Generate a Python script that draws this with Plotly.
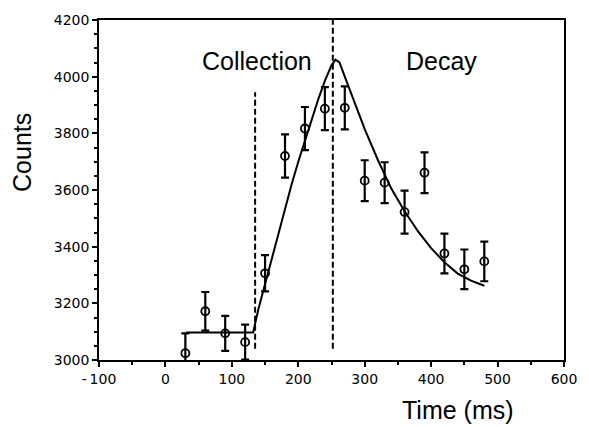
import plotly.graph_objects as go

# measured points
t = [30, 60, 90, 120, 150, 180, 210, 240, 270, 300, 330, 360, 390, 420, 450, 480]
counts = [3024, 3172, 3094, 3063, 3306, 3720, 3817, 3887, 3890, 3633, 3626, 3522, 3661, 3376, 3320, 3348]
err = [70, 68, 62, 62, 64, 76, 76, 76, 76, 72, 72, 76, 72, 70, 70, 70]

# fitted curve
fit_t = [31, 132, 140, 150, 160, 170, 180, 190, 200, 210, 220, 230, 240, 250, 256, 262,
         270, 280, 290, 300, 320, 340, 360, 380, 400, 420, 440, 460, 480]
fit_y = [3097, 3097, 3180, 3270, 3360, 3450, 3535, 3620, 3700, 3775, 3850, 3920, 3985, 4040, 4060, 4050,
         4000, 3940, 3875, 3815, 3705, 3605, 3525, 3455, 3395, 3345, 3305, 3280, 3262]

# dashed separators (x, y-range)
sep1_x = [135, 135]
sep1_y = [3040, 3945]
sep2_x = [252, 252]
sep2_y = [3040, 4200]

FONT = "Liberation Sans, Arial, sans-serif"
TICKFONT = "DejaVu Sans, sans-serif"

fig = go.Figure()
fig.add_trace(go.Scatter(x=sep1_x, y=sep1_y, mode="lines",
                         line=dict(color="black", width=2, dash="6px,3px")))
fig.add_trace(go.Scatter(x=sep2_x, y=sep2_y, mode="lines",
                         line=dict(color="black", width=2, dash="6px,3px")))
fig.add_trace(go.Scatter(x=fit_t, y=fit_y, mode="lines",
                         line=dict(color="black", width=2)))
fig.add_trace(go.Scatter(
    x=t, y=counts, mode="markers",
    marker=dict(symbol="circle-open", size=8, color="black", line=dict(width=1.8)),
    error_y=dict(type="data", array=err, color="black", thickness=2.2, width=4),
))

fig.add_annotation(x=138, y=4055, text="Collection", showarrow=False,
                   font=dict(family=FONT, size=25, color="black"))
fig.add_annotation(x=415, y=4055, text="Decay", showarrow=False,
                   font=dict(family=FONT, size=25, color="black"))
fig.add_annotation(x=440, y=-0.148, xref="x", yref="paper", text="Time (ms)",
                   yanchor="middle", showarrow=False,
                   font=dict(family=FONT, size=25, color="black"))
fig.add_annotation(x=-0.167, y=0.61, xref="paper", yref="paper", text="Counts",
                   textangle=-90, xanchor="center", yanchor="middle", showarrow=False,
                   font=dict(family=FONT, size=25, color="black"))

axis_common = dict(showline=True, linecolor="black", linewidth=1.5, mirror=True,
                   showgrid=False, zeroline=False, ticks="outside", ticklen=5,
                   tickwidth=1.5, tickcolor="black",
                   tickfont=dict(family=TICKFONT, size=14, color="black"))

fig.update_xaxes(range=[-100, 600], tickvals=[-100, 0, 100, 200, 300, 400, 500, 600],
                 ticktext=["-\u2009100", "0", "100", "200", "300", "400", "500", "600"],
                 minor=dict(dtick=50, ticks="outside", ticklen=3, tickcolor="black"),
                 **axis_common)
fig.update_yaxes(range=[3000, 4200], dtick=200,
                 minor=dict(dtick=50, ticks="outside", ticklen=3, tickcolor="black"),
                 **axis_common)

fig.update_layout(width=589, height=427, showlegend=False,
                  margin=dict(l=99, r=19, t=15, b=67),
                  plot_bgcolor="white", paper_bgcolor="white")

# drop the default body margin so the figure fills the window exactly
fig.write_html("out.html", config={"displayModeBar": False},
               post_script="document.body.style.margin='0';document.body.style.overflow='hidden';")
